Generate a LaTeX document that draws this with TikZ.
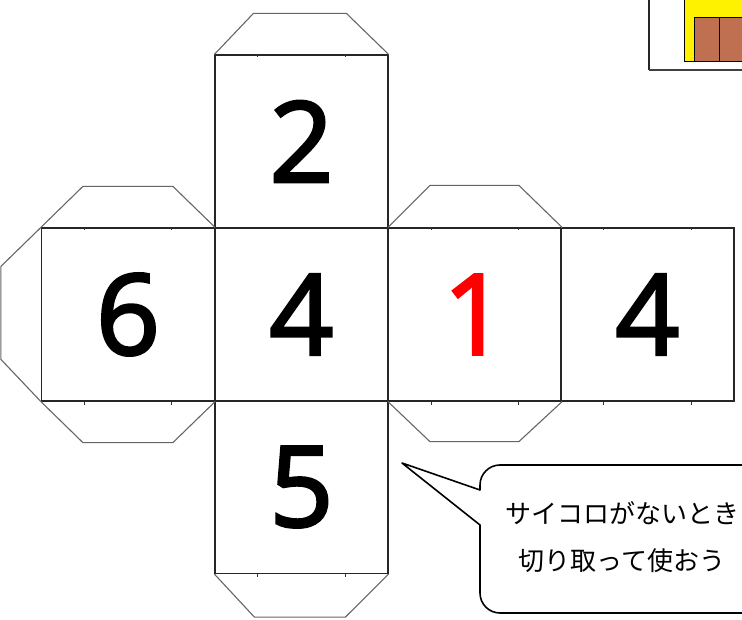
\documentclass[tikz,border=0pt]{standalone}
\usepackage{fontspec}
\usetikzlibrary{calc}
\newfontfamily\jpfont{Noto Sans CJK JP}
\newfontfamily\numfont[FakeBold=2.5]{Open Sans}
\definecolor{brownbox}{RGB}{190,112,80}
\definecolor{facered}{RGB}{255,0,0}
\begin{document}
\begin{tikzpicture}[x=1pt,y=-1pt,
  face/.style={draw=black!85, line width=1.2pt, minimum size=173pt, inner sep=0pt,
    font=\numfont\fontsize{112}{112}\selectfont},
  tab/.style={draw=black!60, line width=1.1pt, line join=round},
  tick/.style={draw=black!80, line width=1pt},
  bubble/.style={draw=black, line width=1.6pt, line join=round},
  msgtext/.style={font=\jpfont\fontsize{26}{47}\selectfont, align=center}]
\useasboundingbox (0,0) rectangle (742,620);
\clip (0,0) rectangle (742,620);
\fill[white] (0,0) rectangle (742,620);

% inset picture top right
\fill[yellow] (684,-5) rectangle (750,62);
\draw[black, line width=1pt] (684,-5) -- (684,62) -- (750,62);
\draw[fill=brownbox, line width=1pt] (694,18) rectangle (719,62);
\draw[fill=brownbox, line width=1pt] (719,18) rectangle (750,62);
\draw[black!85, line width=1.2pt] (649,-5) -- (649,70);
\draw[black!75, line width=2.2pt] (649,70) -- (750,70);

% faces
\node[face] (f2) at (301.5,141.5) {2};
\node[face] (f6) at (128,314.5) {6};
\node[face] (f4) at (301.5,314.5) {4};
\node[face, text=facered] (f1) at (475,314.5) {1};
\node[face] (f4b) at (647.5,314.5) {4};
\node[face] (f5) at (301.5,487) {5};

% tabs
\draw[tab] (f2.north west) -- ++(39,-41) -- ++(93,0) -- (f2.north east);
\draw[tab] (f6.north west) -- ++(42,-41) -- ++(90,0) -- (f6.north east);
\draw[tab] (f6.south west) -- ++(42,41) -- ++(90,0) -- (f6.south east);
\draw[tab] (f6.north west) -- ++(-40,39) -- ++(0,93) -- (f6.south west);
\draw[tab] (f1.north west) -- ++(42,-42) -- ++(89,0) -- (f1.north east);
\draw[tab] (f1.south west) -- ++(42,40) -- ++(89,0) -- (f1.south east);
\draw[tab] (f5.south west) -- ++(40,43) -- ++(91,0) -- (f5.south east);

% ticks
\foreach \f/\a/\b in {f2/north west/north east, f6/north west/north east,
  f6/south west/south east, f1/north west/north east, f1/south west/south east,
  f4b/north west/north east, f4b/south west/south east, f5/south west/south east}{
  \draw[tick] ($(\f.\a)!0.25!(\f.\b)$) -- ++(0,3);
  \draw[tick] ($(\f.\a)!0.75!(\f.\b)$) -- ++(0,3);
}

% speech bubble
\coordinate (tip) at (402,463);
\draw[bubble] (tip) -- (480,490) [rounded corners=20pt] -- (480,465) -- (770,465)
  -- (770,613) -- (480,613) [sharp corners] -- (480,525) -- cycle;
\node[msgtext] (msg) at (622,537) {サイコロがないとき\\切り取って使おう};
\end{tikzpicture}
\end{document}
